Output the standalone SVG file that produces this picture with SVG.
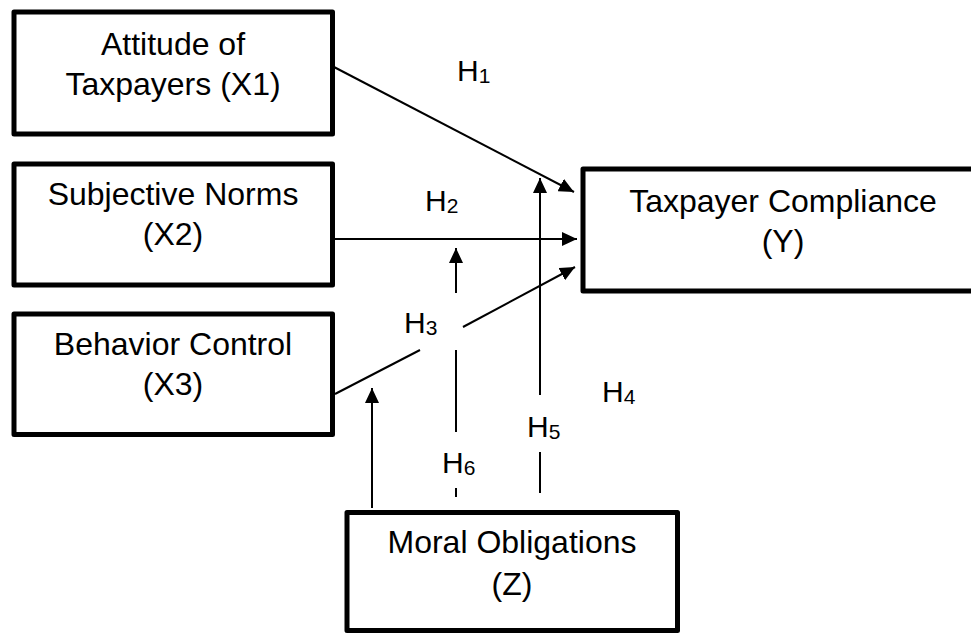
<svg xmlns="http://www.w3.org/2000/svg" width="971" height="635" viewBox="0 0 971 635">
<style>
.box{fill:#fff;stroke:#000;stroke-width:5;stroke-linejoin:round}
.t{font-family:"Liberation Sans",Arial,sans-serif;font-size:32px;fill:#000;text-anchor:middle}
.h{font-family:"Liberation Sans",Arial,sans-serif;font-size:30px;fill:#000}
.sub{font-size:21px}
.ln{stroke:#000;stroke-width:2;fill:none}
</style>
<defs>
<marker id="arr" markerUnits="userSpaceOnUse" markerWidth="16" markerHeight="14" refX="15" refY="7" orient="auto">
<path d="M0,0 L15,7 L0,14 Z" fill="#000"/>
</marker>
</defs>
<rect width="971" height="635" fill="#fff"/>
<g id="connectors">
<line class="ln" x1="334" y1="67" x2="574" y2="192" marker-end="url(#arr)"/>
<line class="ln" x1="334" y1="239" x2="577" y2="239" marker-end="url(#arr)"/>
<line class="ln" x1="335" y1="394" x2="420" y2="350"/>
<line class="ln" x1="463" y1="327" x2="575" y2="267" marker-end="url(#arr)"/>
<line class="ln" x1="456" y1="293" x2="456" y2="248" marker-end="url(#arr)"/>
<line class="ln" x1="456" y1="350" x2="456" y2="432"/>
<line class="ln" x1="456" y1="488" x2="456" y2="497"/>
<line class="ln" x1="540" y1="395" x2="540" y2="178" marker-end="url(#arr)"/>
<line class="ln" x1="540" y1="452" x2="540" y2="493"/>
<line class="ln" x1="372" y1="508" x2="372" y2="388" marker-end="url(#arr)"/>
</g>
<g id="labels">
<text class="h" x="457" y="81">H<tspan class="sub" dy="2">1</tspan></text>
<text class="h" x="425" y="211">H<tspan class="sub" dy="2">2</tspan></text>
<text class="h" x="404" y="333">H<tspan class="sub" dy="2">3</tspan></text>
<text class="h" x="602" y="402">H<tspan class="sub" dy="2">4</tspan></text>
<text class="h" x="527" y="437">H<tspan class="sub" dy="2">5</tspan></text>
<text class="h" x="442" y="473">H<tspan class="sub" dy="2">6</tspan></text>
</g>
<g id="node-x1">
<rect class="box" x="14" y="12" width="318.5" height="122"/>
<text class="t" x="173" y="55">Attitude of</text>
<text class="t" x="173" y="95">Taxpayers (X1)</text>
</g>
<g id="node-x2">
<rect class="box" x="14" y="164" width="318.5" height="121"/>
<text class="t" x="173" y="205">Subjective Norms</text>
<text class="t" x="173" y="245">(X2)</text>
</g>
<g id="node-x3">
<rect class="box" x="14" y="314" width="318.5" height="120.5"/>
<text class="t" x="173" y="355">Behavior Control</text>
<text class="t" x="173" y="395">(X3)</text>
</g>
<g id="node-y">
<rect class="box" x="583" y="169" width="400" height="122"/>
<text class="t" x="783" y="212">Taxpayer Compliance</text>
<text class="t" x="783" y="252">(Y)</text>
</g>
<g id="node-z">
<rect class="box" x="347" y="512.5" width="330.5" height="118"/>
<text class="t" x="512" y="553">Moral Obligations</text>
<text class="t" x="512" y="595">(Z)</text>
</g>
</svg>
